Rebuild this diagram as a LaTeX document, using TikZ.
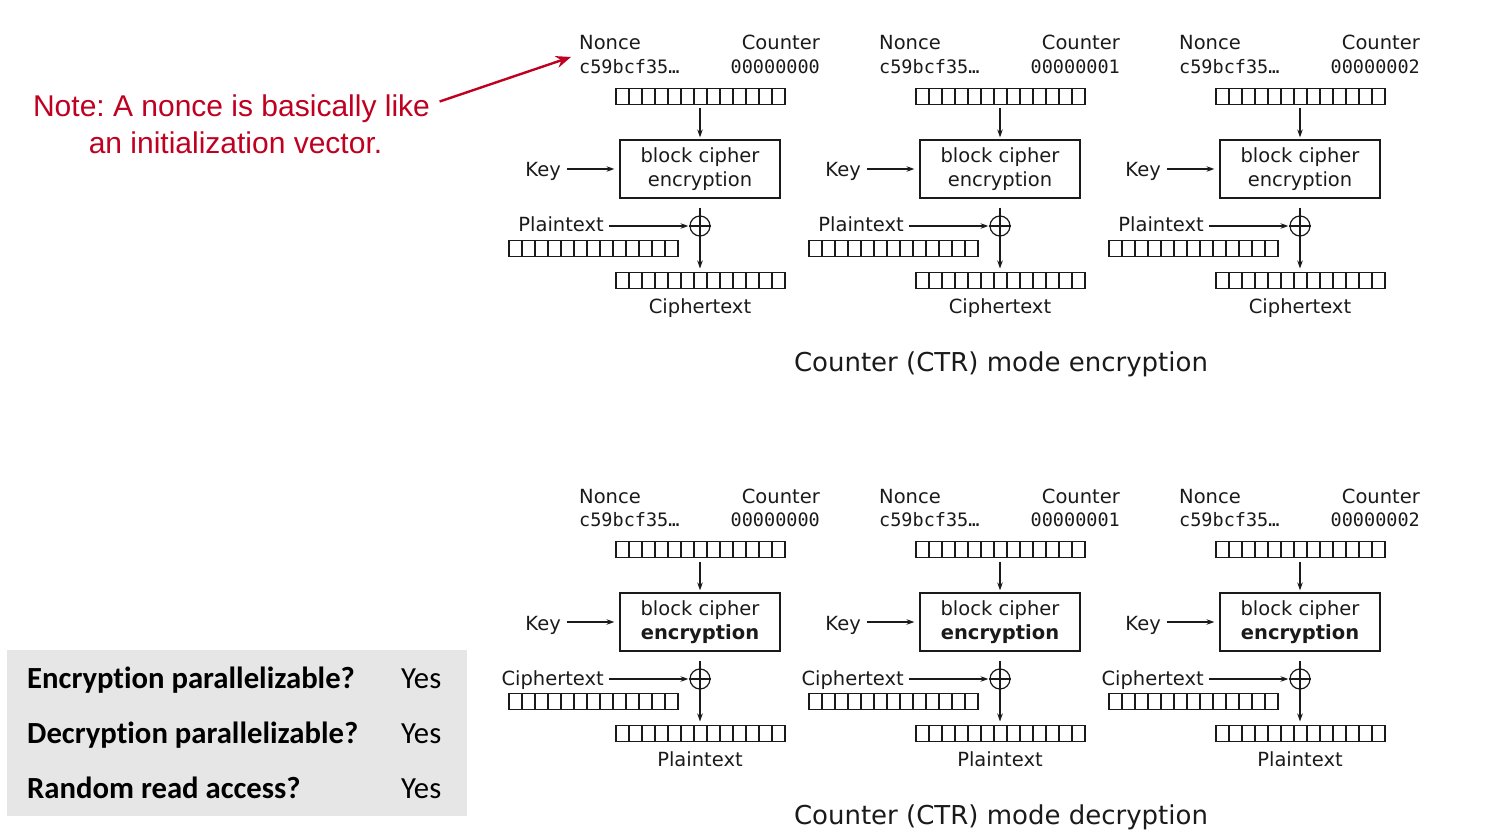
\documentclass[tikz,border=0pt]{standalone}
\usepackage{fontspec}
\setmainfont{DejaVu Sans}
\newfontfamily\monof{DejaVu Sans Mono}
\newfontfamily\notef{Liberation Sans}
\newfontfamily\tabf[Ligatures=NoCommon]{Carlito}
\usetikzlibrary{arrows.meta}
\definecolor{notered}{HTML}{C00020}
\definecolor{tabgray}{HTML}{E6E6E6}
\definecolor{inkc}{HTML}{1A1A1A}
\frenchspacing
\tikzset{
 lbl/.style={inner sep=0pt, text=inkc, font=\fontsize{19.5}{24}\selectfont},
 mono/.style={inner sep=0pt, text=inkc, font=\monof\fontsize{18.5}{22}\selectfont},
 ttl/.style={inner sep=0pt, text=inkc, font=\fontsize{26}{30}\selectfont},
 reg/.style={draw=inkc, line width=1.2pt, minimum width=169pt, minimum height=16pt, inner sep=0pt, outer sep=0pt},
 cipherbox/.style={draw=inkc, line width=1.2pt, minimum width=160pt, minimum height=58pt, align=center, inner sep=0pt, text=inkc, font=\fontsize{19.5}{24.5}\selectfont},
 xorc/.style={circle, draw=inkc, line width=1.2pt, minimum size=20pt, inner sep=0pt},
 flow/.style={draw=inkc, -{Stealth[length=8pt,width=5.5pt]}, line width=1.2pt},
 notetxt/.style={inner sep=0pt, text=notered, font=\notef\fontsize{30}{37}\selectfont},
 notearrow/.style={draw=notered, line width=2.4pt, -{Stealth[length=15pt,width=12pt]}},
 tabb/.style={inner sep=0pt, font=\tabf\bfseries\fontsize{30.7}{35}\selectfont},
 tabr/.style={inner sep=0pt, font=\tabf\fontsize{30.7}{35}\selectfont},
}
\newcommand\regcells[1]{\foreach \j in {1,...,12}{\draw[inkc, line width=1.2pt] ([xshift=\j*13pt]#1.south west) -- ([xshift=\j*13pt]#1.north west);}}
\begin{document}
\begin{tikzpicture}[x=1pt,y=-1pt]
\useasboundingbox (0,0) rectangle (1496,834);
\foreach \m/\dy/\inl/\outl/\wt in {e/0/Plaintext/Ciphertext/\mdseries, d/453/Ciphertext/Plaintext/\bfseries}{
 \foreach \i/\ctr in {0/00000000,1/00000001,2/00000002}{
  \pgfmathsetmacro\cx{700+300*\i}
  \node[lbl, anchor=base west] (nonce-\m\i) at (\cx-121,50+\dy) {Nonce};
  \node[lbl, anchor=base east] (counter-\m\i) at (\cx+120,50+\dy) {Counter};
  \node[mono, anchor=base west] (nval-\m\i) at (\cx-121,73.5+\dy) {c59bcf35…};
  \node[mono, anchor=base east] (cval-\m\i) at (\cx+120,73.5+\dy) {\ctr};
  \node[reg] (top-\m\i) at (\cx+0.5,96.5+\dy) {};
  \regcells{top-\m\i}
  \node[cipherbox] (bc-\m\i) at (\cx,169+\dy) {block cipher\\{\wt encryption}};
  \node[lbl, anchor=base east] (key-\m\i) at (\cx-139,177+\dy) {Key};
  \node[xorc] (x-\m\i) at (\cx,226+\dy) {};
  \node[lbl, anchor=base east] (in-\m\i) at (\cx-96,232+\dy) {\inl};
  \node[reg] (inreg-\m\i) at (\cx-106.5,248.5+\dy) {};
  \regcells{inreg-\m\i}
  \node[reg] (out-\m\i) at (\cx+0.5,280.5+\dy) {};
  \regcells{out-\m\i}
  \node[lbl, anchor=base] (outl-\m\i) at (\cx,313+\dy) {\outl};
  \draw[flow, shorten <=4pt, shorten >=2pt] (top-\m\i.south -| bc-\m\i.north) -- (bc-\m\i.north);
  \draw[flow, shorten <=6pt, shorten >=5pt] (key-\m\i.east |- bc-\m\i.west) -- (bc-\m\i.west);
  \draw[flow, shorten <=9pt, shorten >=4pt] (bc-\m\i.south) -- (out-\m\i.north -| bc-\m\i.south);
  \draw[inkc, line width=1.2pt] (x-\m\i.west) -- (x-\m\i.east);
  \draw[flow, shorten <=5pt, shorten >=1pt] (in-\m\i.east |- x-\m\i.west) -- (x-\m\i.west);
 }
}
\node[ttl, anchor=base] (title-e) at (1001,371.5) {Counter (CTR) mode encryption};
\node[ttl, anchor=base] (title-d) at (1001,824.5) {Counter (CTR) mode decryption};
% note
\node[notetxt, anchor=base] (note1) at (231.5,116.5) {Note: A nonce is basically like};
\node[notetxt, anchor=base] (note2) at (235.5,153.5) {an initialization vector.};
\coordinate (tipN) at (571,57);
\draw[notearrow, shorten <=10pt] ([yshift=4pt]note1.east) -- (tipN);
% table
\node[fill=tabgray, minimum width=460pt, minimum height=166pt, inner sep=0pt, anchor=north west] (tbl) at (7,650) {};
\node[tabb, anchor=base west] (q1) at (27,688.3) {Encryption parallelizable?};
\node[tabb, anchor=base west] (q2) at (27,743.3) {Decryption parallelizable?};
\node[tabb, anchor=base west] (q3) at (27,798.3) {Random read access?};
\node[tabr, anchor=base west] (a1) at (401,688.3) {Yes};
\node[tabr, anchor=base west] (a2) at (401,743.3) {Yes};
\node[tabr, anchor=base west] (a3) at (401,798.3) {Yes};
\end{tikzpicture}
\end{document}
